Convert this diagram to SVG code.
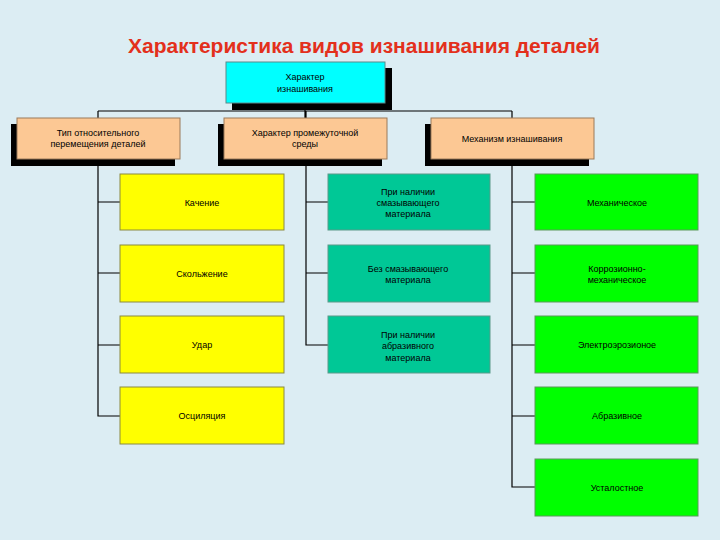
<svg xmlns="http://www.w3.org/2000/svg" width="720" height="540" viewBox="0 0 720 540">
<style>
.t{font-family:"Liberation Sans",Arial,sans-serif;font-size:9px;fill:#000;text-anchor:middle}
.sh{fill:#000}
.top{fill:#00ffff;stroke:#5a8a8a;stroke-width:1}
.pe{fill:#fcc894;stroke:#9a7a5a;stroke-width:1}
.ye{fill:#ffff00;stroke:#8a8a40;stroke-width:1}
.te{fill:#00c896;stroke:#5a9a8a;stroke-width:1}
.gr{fill:#00ff00;stroke:#5a9a5a;stroke-width:1}
.c{stroke:#000;stroke-width:1.2;fill:none}
</style>
<rect width="720" height="540" fill="#dcedf3"/>
<text x="364" y="53" font-family="Liberation Sans,Arial,sans-serif" font-weight="bold" font-size="20" fill="#e3301c" text-anchor="middle" textLength="472" lengthAdjust="spacingAndGlyphs">Характеристика видов изнашивания деталей</text>
<g id="connectors">
<path class="c" d="M98 111H512M305 104V118M98 111V416H120M306 111V345H328M512 111V487H535"/>
<path class="c" d="M98 202H120M98 273H120M98 345H120M306 202H328M306 273H328M512 202H535M512 273H535M512 345H535M512 416H535"/>
</g>
<g id="n-top"><rect class="sh" x="232" y="68" width="160" height="42"/><rect class="top" x="226" y="62" width="159" height="41"/><text class="t" x="305" y="80">Характер</text><text class="t" x="305" y="92">изнашивания</text></g>
<g id="n-type"><rect class="sh" x="11" y="124" width="164" height="42"/><rect class="pe" x="17" y="118" width="163" height="41"/><text class="t" x="98" y="136">Тип относительного</text><text class="t" x="98" y="147">перемещения деталей</text></g>
<g id="n-medium"><rect class="sh" x="218" y="124" width="164" height="42"/><rect class="pe" x="224" y="118" width="163" height="41"/><text class="t" x="305" y="136">Характер промежуточной</text><text class="t" x="305" y="147">среды</text></g>
<g id="n-mech"><rect class="sh" x="425" y="124" width="164" height="42"/><rect class="pe" x="431" y="118" width="163" height="41"/><text class="t" x="512" y="142">Механизм изнашивания</text></g>
<g id="n-y1"><rect class="ye" x="120" y="174" width="164" height="56"/><text class="t" x="202" y="206">Качение</text></g>
<g id="n-y2"><rect class="ye" x="120" y="245" width="164" height="57"/><text class="t" x="202" y="277">Скольжение</text></g>
<g id="n-y3"><rect class="ye" x="120" y="316" width="164" height="57"/><text class="t" x="202" y="348">Удар</text></g>
<g id="n-y4"><rect class="ye" x="120" y="387" width="164" height="57"/><text class="t" x="202" y="419">Осциляция</text></g>
<g id="n-t1"><rect class="te" x="328" y="174" width="162" height="56"/><text class="t" x="408" y="195">При наличии</text><text class="t" x="408" y="206">смазывающего</text><text class="t" x="408" y="217">материала</text></g>
<g id="n-t2"><rect class="te" x="328" y="245" width="162" height="57"/><text class="t" x="408" y="272">Без смазывающего</text><text class="t" x="408" y="283">материала</text></g>
<g id="n-t3"><rect class="te" x="328" y="316" width="162" height="57"/><text class="t" x="408" y="338">При наличии</text><text class="t" x="408" y="349">абразивного</text><text class="t" x="408" y="361">материала</text></g>
<g id="n-g1"><rect class="gr" x="535" y="174" width="163" height="56"/><text class="t" x="617" y="206">Механическое</text></g>
<g id="n-g2"><rect class="gr" x="535" y="245" width="163" height="57"/><text class="t" x="617" y="272">Коррозионно-</text><text class="t" x="617" y="283">механическое</text></g>
<g id="n-g3"><rect class="gr" x="535" y="316" width="163" height="57"/><text class="t" x="617" y="348">Электроэрозионое</text></g>
<g id="n-g4"><rect class="gr" x="535" y="387" width="163" height="57"/><text class="t" x="617" y="419">Абразивное</text></g>
<g id="n-g5"><rect class="gr" x="535" y="459" width="163" height="57"/><text class="t" x="617" y="491">Усталостное</text></g>
</svg>
